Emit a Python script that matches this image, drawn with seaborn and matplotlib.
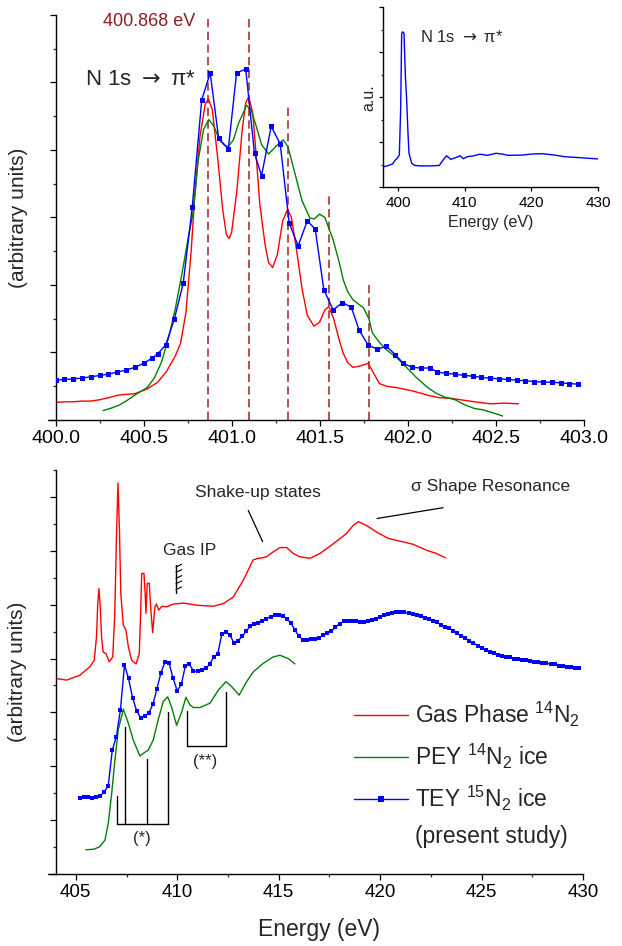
import matplotlib
matplotlib.use("Agg")
import matplotlib.pyplot as plt
from matplotlib.lines import Line2D
from matplotlib.ticker import MultipleLocator, FormatStrFormatter
import numpy as np
import pandas as pd
import seaborn as sns

# ---------------- data: top panel (N 1s -> pi*) ----------------
gas_top_e = [400.00, 400.05, 400.10, 400.15, 400.20, 400.25, 400.30, 400.36, 400.45, 400.52,
             400.58, 400.63, 400.68, 400.71, 400.74, 400.77, 400.79, 400.82, 400.85, 400.868,
             400.89, 400.92, 400.95, 400.97, 400.985, 401.00, 401.03, 401.06, 401.08, 401.097,
             401.12, 401.14, 401.16, 401.19, 401.21, 401.233, 401.26, 401.29, 401.318, 401.34,
             401.37, 401.40, 401.43, 401.468, 401.50, 401.53, 401.553, 401.58, 401.61, 401.634,
             401.66, 401.69, 401.73, 401.776, 401.81, 401.84, 401.88, 401.937, 402.03, 402.127,
             402.18, 402.25, 402.30, 402.38, 402.47, 402.55, 402.63]
gas_top_v = [0.26, 0.27, 0.27, 0.28, 0.28, 0.30, 0.33, 0.37, 0.39, 0.46,
             0.56, 0.72, 0.95, 1.14, 1.59, 2.50, 3.30, 4.20, 4.68, 4.76,
             4.60, 3.90, 3.10, 2.75, 2.69, 2.78, 3.40, 4.30, 4.70, 4.79,
             4.55, 3.90, 3.20, 2.60, 2.33, 2.26, 2.45, 2.95, 3.12, 3.00,
             2.50, 1.95, 1.55, 1.39, 1.45, 1.63, 1.68, 1.50, 1.20, 0.99,
             0.85, 0.78, 0.80, 0.84, 0.68, 0.54, 0.50, 0.48, 0.43, 0.36,
             0.33, 0.32, 0.30, 0.27, 0.24, 0.25, 0.24]

pey_top_e = [400.27, 400.32, 400.36, 400.40, 400.45, 400.52, 400.56, 400.60, 400.64, 400.68,
             400.72, 400.75, 400.78, 400.81, 400.84, 400.87, 400.90, 400.93, 400.96, 400.98,
             401.01, 401.04, 401.085, 401.11, 401.14, 401.17, 401.21, 401.25, 401.293, 401.32,
             401.35, 401.40, 401.445, 401.47, 401.50, 401.53, 401.577, 401.61, 401.634, 401.66,
             401.69, 401.72, 401.75, 401.78, 401.80, 401.84, 401.88, 401.94, 401.99, 402.05,
             402.11, 402.16, 402.21, 402.27, 402.32, 402.38, 402.43, 402.48, 402.54]
pey_top_v = [0.14, 0.18, 0.22, 0.28, 0.37, 0.48, 0.62, 0.85, 1.20, 1.65,
             2.20, 2.65, 3.06, 3.85, 4.30, 4.45, 4.35, 4.15, 4.07, 4.05,
             4.15, 4.40, 4.66, 4.60, 4.35, 4.08, 3.94, 4.05, 4.15, 4.05,
             3.75, 3.25, 2.99, 2.98, 3.05, 3.00, 2.67, 2.35, 2.08, 1.90,
             1.78, 1.72, 1.66, 1.50, 1.29, 1.15, 1.04, 0.92, 0.79, 0.63,
             0.49, 0.40, 0.34, 0.30, 0.23, 0.17, 0.15, 0.11, 0.06]

tey_top_e = [400.00, 400.05, 400.10, 400.15, 400.20, 400.25, 400.30, 400.35, 400.40, 400.45,
             400.50, 400.55, 400.58, 400.625, 400.675, 400.725, 400.776, 400.83, 400.878, 400.926,
             400.981, 401.028, 401.08, 401.13, 401.17, 401.225, 401.276, 401.327, 401.378, 401.43,
             401.475, 401.524, 401.577, 401.63, 401.68, 401.725, 401.776, 401.827, 401.88, 401.93,
             401.975, 402.026, 402.077, 402.128, 402.17, 402.22, 402.27, 402.32, 402.37, 402.42,
             402.47, 402.52, 402.57, 402.62, 402.67, 402.72, 402.77, 402.82, 402.87, 402.92, 402.97]
tey_top_v = [0.59, 0.60, 0.61, 0.62, 0.64, 0.66, 0.68, 0.71, 0.74, 0.78,
             0.84, 0.92, 0.98, 1.11, 1.50, 2.03, 3.15, 4.74, 5.14, 4.18,
             4.01, 5.14, 5.20, 3.95, 3.62, 4.35, 4.09, 2.92, 2.58, 2.95,
             2.83, 1.93, 1.63, 1.74, 1.67, 1.33, 1.11, 1.05, 1.09, 0.97,
             0.84, 0.78, 0.77, 0.77, 0.71, 0.69, 0.68, 0.66, 0.65, 0.63,
             0.62, 0.61, 0.60, 0.59, 0.58, 0.57, 0.56, 0.56, 0.55, 0.54, 0.53]

peak_e = [400.868, 401.10, 401.32, 401.556, 401.78]
peak_top = [5.95, 5.95, 4.64, 3.32, 2.02]

# ---------------- data: inset (wide TEY scan) ----------------
inset_e = [397.75, 398.5, 399.2, 399.6, 399.9, 400.2, 400.4, 400.55, 400.7, 400.9,
           401.1, 401.3, 401.5, 401.65, 402.05, 402.5, 403.5, 405.0, 406.2, 406.7,
           407.3, 407.9, 408.5, 409.3, 409.8, 410.4, 411.2, 412.3, 413.4, 414.7,
           415.6, 416.5, 418.5, 420.2, 421.8, 423.5, 425.0, 427.5, 430.0]
inset_v = [0.92, 0.97, 1.05, 1.22, 1.30, 1.45, 3.50, 6.85, 6.92, 6.85,
           5.00, 3.89, 2.40, 1.52, 1.08, 0.98, 0.96, 0.96, 0.98, 1.20,
           1.41, 1.25, 1.31, 1.41, 1.28, 1.37, 1.40, 1.48, 1.43, 1.52,
           1.49, 1.43, 1.44, 1.49, 1.50, 1.44, 1.37, 1.32, 1.27]

# ---------------- data: bottom panel (full NEXAFS) ----------------
gas_e = [404.02, 404.55, 405.2, 405.7, 405.91, 406.02, 406.08, 406.14, 406.2, 406.27,
         406.35, 406.49, 406.65, 406.82, 406.92, 407.0, 407.08, 407.15, 407.22, 407.34,
         407.47, 407.59, 407.75, 407.97, 408.13, 408.2, 408.25, 408.36, 408.42, 408.46,
         408.52, 408.62, 408.7, 408.79, 408.9, 408.98, 409.08, 409.25, 409.48, 409.8,
         410.3, 410.96, 411.77, 412.27, 412.76, 413.25, 413.74, 413.99, 414.2, 414.4,
         414.73, 415.06, 415.39, 415.72, 416.04, 416.54, 417.03, 417.69, 418.34, 418.67,
         418.92, 419.33, 419.82, 420.4, 420.97, 421.63, 422.29, 422.78, 423.22]
gas_v = [3.63, 3.60, 3.69, 3.85, 3.97, 4.40, 5.00, 5.30, 5.00, 4.40,
         4.12, 4.09, 3.94, 4.03, 4.80, 6.20, 7.26, 6.40, 5.20, 4.62,
         4.53, 4.22, 3.97, 3.90, 4.09, 4.90, 5.58, 5.58, 5.20, 4.84,
         5.39, 5.40, 4.90, 4.48, 4.96, 5.01, 4.90, 4.97, 4.96, 5.01,
         5.03, 4.99, 4.97, 5.02, 5.14, 5.45, 5.83, 5.86, 5.87, 5.89,
         5.98, 6.06, 6.06, 5.95, 5.89, 5.86, 5.95, 6.13, 6.32, 6.47,
         6.54, 6.47, 6.35, 6.23, 6.18, 6.12, 6.01, 5.95, 5.87]

pey_e = [405.5, 405.9, 406.19, 406.44, 406.6, 406.77, 406.93, 407.09, 407.34, 407.59,
         407.83, 408.16, 408.33, 408.57, 408.82, 409.06, 409.31, 409.53, 409.72, 409.97,
         410.22, 410.43, 410.63, 410.79, 411.12, 411.61, 412.02, 412.4, 412.68, 413.05,
         413.42, 413.74, 414.24, 414.73, 415.06, 415.47, 415.8]
pey_v = [0.45, 0.46, 0.51, 0.63, 0.94, 1.50, 2.12, 2.67, 3.06, 2.80,
         2.49, 2.19, 2.24, 2.30, 2.49, 2.86, 3.20, 3.29, 3.10, 2.76,
         3.01, 3.28, 3.14, 3.09, 3.09, 3.17, 3.41, 3.57, 3.48, 3.32,
         3.57, 3.75, 3.91, 4.03, 4.06, 4.00, 3.90]

tey_e = [405.2, 405.4, 405.6, 405.8, 406.0, 406.2, 406.4, 406.6, 406.8, 407.0,
         407.2, 407.4, 407.6, 407.8, 408.0, 408.2, 408.4, 408.6, 408.8, 409.0,
         409.2, 409.4, 409.6, 409.8, 410.0, 410.2, 410.4, 410.6, 410.8, 411.0,
         411.2, 411.4, 411.6, 411.8, 412.0, 412.2, 412.4, 412.6, 412.8, 413.0,
         413.2, 413.4, 413.6, 413.8, 414.0, 414.2, 414.4, 414.6, 414.8, 415.0,
         415.2, 415.4, 415.6, 415.8, 416.0, 416.2, 416.4, 416.6, 416.8, 417.0,
         417.2, 417.4, 417.6, 417.8, 418.0, 418.2, 418.4, 418.6, 418.8, 419.0,
         419.2, 419.4, 419.6, 419.8, 420.0, 420.2, 420.4, 420.6, 420.8, 421.0,
         421.2, 421.4, 421.6, 421.8, 422.0, 422.2, 422.4, 422.6, 422.8, 423.0,
         423.2, 423.4, 423.6, 423.8, 424.0, 424.2, 424.4, 424.6, 424.8, 425.0,
         425.2, 425.4, 425.6, 425.8, 426.0, 426.2, 426.4, 426.6, 426.8, 427.0,
         427.2, 427.4, 427.6, 427.8, 428.0, 428.2, 428.4, 428.6, 428.8, 429.0,
         429.2, 429.4, 429.6, 429.8]
tey_v = [1.42, 1.43, 1.43, 1.42, 1.43, 1.45, 1.52, 1.64, 2.30, 2.55,
         3.05, 3.88, 3.63, 3.27, 3.03, 2.90, 2.93, 2.99, 3.15, 3.44,
         3.74, 3.94, 3.91, 3.63, 3.40, 3.52, 3.86, 3.89, 3.77, 3.76,
         3.78, 3.82, 3.89, 4.03, 4.09, 4.46, 4.50, 4.43, 4.29, 4.33,
         4.41, 4.51, 4.60, 4.64, 4.66, 4.70, 4.74, 4.78, 4.80, 4.81,
         4.79, 4.74, 4.66, 4.53, 4.41, 4.35, 4.34, 4.36, 4.37, 4.39,
         4.43, 4.47, 4.51, 4.58, 4.65, 4.69, 4.70, 4.70, 4.69, 4.68,
         4.68, 4.69, 4.71, 4.74, 4.77, 4.80, 4.82, 4.84, 4.87, 4.87,
         4.86, 4.84, 4.82, 4.81, 4.79, 4.76, 4.73, 4.70, 4.67, 4.63,
         4.59, 4.56, 4.52, 4.47, 4.42, 4.38, 4.33, 4.29, 4.24, 4.20,
         4.16, 4.13, 4.10, 4.07, 4.05, 4.03, 4.02, 4.00, 3.99, 3.98,
         3.97, 3.95, 3.94, 3.93, 3.92, 3.91, 3.90, 3.89, 3.87, 3.86,
         3.85, 3.84, 3.83, 3.82]

legend_labels = ["Gas Phase $^{14}$N$_2$", "PEY $^{14}$N$_2$ ice",
                 "TEY $^{15}$N$_2$ ice", "(present study)"]

# ---------------- style ----------------
sns.set_theme(style="ticks")
plt.rcParams["font.family"] = ["Liberation Sans", "DejaVu Sans"]
plt.rcParams["mathtext.fontset"] = "custom"
plt.rcParams["mathtext.rm"] = "Liberation Sans"
plt.rcParams["mathtext.it"] = "Liberation Sans:italic"
plt.rcParams["mathtext.bf"] = "Liberation Sans:bold"
plt.rcParams["axes.linewidth"] = 1.0

RED, GREEN, BLUE = "#ff0000", "#008000", "#0000ff"
DASH = "#a33535"
W, H = 622, 946
PI_TEXT = "N 1s $\\rightarrow$ \u03c0*"

fig = plt.figure(figsize=(W / 100, H / 100), dpi=100)
ax1 = fig.add_axes([55.7 / W, 1 - 420 / H, 527.8 / W, 405 / H])
ax2 = fig.add_axes([55.5 / W, 1 - 874 / H, 527.5 / W, 404 / H])
ax3 = fig.add_axes([383 / W, 1 - 187.5 / H, 215 / W, 180 / H])
ax3.patch.set_alpha(0)


def style_axis(ax, labelsize, maj=4.3, mnr=2.4):
    for s in ("top", "right"):
        ax.spines[s].set_visible(False)
    ax.tick_params(which="major", direction="out", length=maj, width=0.9,
                   labelsize=labelsize, pad=3, colors="black")
    ax.tick_params(which="minor", direction="out", length=mnr, width=0.9)
    ax.tick_params(axis="y", which="both", labelleft=False)
    ax.spines["left"].set_color("black")
    ax.spines["bottom"].set_color("black")


# ---------------- top panel ----------------
df_gas_top = pd.DataFrame({"E": gas_top_e, "I": gas_top_v})
df_pey_top = pd.DataFrame({"E": pey_top_e, "I": pey_top_v})
df_tey_top = pd.DataFrame({"E": tey_top_e, "I": tey_top_v})

ax1.vlines(peak_e, 0, peak_top, colors=DASH, linewidth=1.2, linestyles=(0, (5, 2.6)), zorder=1)
sns.lineplot(data=df_gas_top, x="E", y="I", ax=ax1, color=RED, lw=1.0,
             estimator=None, sort=False, legend=False, zorder=2)
sns.lineplot(data=df_pey_top, x="E", y="I", ax=ax1, color=GREEN, lw=1.0,
             estimator=None, sort=False, legend=False, zorder=3)
sns.lineplot(data=df_tey_top, x="E", y="I", ax=ax1, color=BLUE, lw=1.0, marker="s",
             markersize=3.6, markeredgewidth=0, estimator=None, sort=False, legend=False, zorder=4)

ax1.set_xlim(400.0, 403.0)
ax1.set_ylim(0, 6.0)
ax1.xaxis.set_major_locator(MultipleLocator(0.5))
ax1.xaxis.set_minor_locator(MultipleLocator(0.25))
ax1.xaxis.set_major_formatter(FormatStrFormatter("%.1f"))
ax1.yaxis.set_major_locator(MultipleLocator(1))
ax1.yaxis.set_minor_locator(MultipleLocator(0.5))
style_axis(ax1, 14)
ax1.set_xlabel("")
ax1.set_ylabel("(arbitrary units)", fontsize=15, va="center")
ax1.yaxis.set_label_coords(-0.0714, 0.5)
ax1.plot([-0.015, 0], [0, 0], transform=ax1.transAxes, color="black", lw=1.0, clip_on=False)

ax1.text(400.53, 5.9, "400.868 eV", color="#8b1e1e", fontsize=13, ha="center", va="center")
ax1.text(400.166, 5.04, PI_TEXT, fontsize=16, ha="left", va="center",
         math_fontfamily="dejavusans")

# ---------------- inset ----------------
df_inset = pd.DataFrame({"E": inset_e, "I": inset_v})
sns.lineplot(data=df_inset, x="E", y="I", ax=ax3, color=BLUE, lw=1.0,
             estimator=None, sort=False, legend=False)
ax3.set_xlim(397.75, 430.0)
ax3.set_ylim(0, 8)
ax3.set_xticks([400, 410, 420, 430])
ax3.xaxis.set_minor_locator(MultipleLocator(5))
ax3.yaxis.set_major_locator(MultipleLocator(2))
ax3.yaxis.set_minor_locator(MultipleLocator(1))
style_axis(ax3, 11, maj=3.0, mnr=1.8)
ax3.tick_params(axis="x", which="minor", length=0)
ax3.set_xlabel("Energy (eV)", fontsize=11.5)
ax3.xaxis.set_label_coords(0.5, -0.155)
ax3.set_ylabel("a.u.", fontsize=11.5, va="center")
ax3.yaxis.set_label_coords(-0.065, 0.5)
ax3.text(403.3, 6.7, PI_TEXT, fontsize=12, ha="left", va="center",
         math_fontfamily="dejavusans")

# ---------------- bottom panel ----------------
df_gas = pd.DataFrame({"E": gas_e, "I": gas_v})
df_pey = pd.DataFrame({"E": pey_e, "I": pey_v})
df_tey = pd.DataFrame({"E": tey_e, "I": tey_v})

sns.lineplot(data=df_gas, x="E", y="I", ax=ax2, color=RED, lw=1.0,
             estimator=None, sort=False, legend=False)
sns.lineplot(data=df_pey, x="E", y="I", ax=ax2, color=GREEN, lw=1.0,
             estimator=None, sort=False, legend=False)
sns.lineplot(data=df_tey, x="E", y="I", ax=ax2, color=BLUE, lw=1.0, marker="s",
             markersize=2.4, markeredgewidth=0, estimator=None, sort=False, legend=False)

ax2.set_xlim(404.0, 430.0)
ax2.set_ylim(0, 7.5)
ax2.xaxis.set_major_locator(MultipleLocator(5))
ax2.xaxis.set_minor_locator(MultipleLocator(2.5))
ax2.yaxis.set_major_locator(MultipleLocator(1))
ax2.yaxis.set_minor_locator(MultipleLocator(0.5))
style_axis(ax2, 13.5)
ax2.set_xlabel("Energy (eV)", fontsize=16.5, va="top")
ax2.xaxis.set_label_coords(0.5, -0.11)
ax2.set_ylabel("(arbitrary units)", fontsize=15, va="center")
ax2.yaxis.set_label_coords(-0.0714, 0.5)
ax2.plot([-0.015, 0], [0, 0], transform=ax2.transAxes, color="black", lw=1.0, clip_on=False)

# annotations
ax2.text(410.63, 6.01, "Gas IP", fontsize=12.5, ha="center", va="center")
ip_e = 409.94
ax2.plot([ip_e, ip_e], [5.21, 5.73], color="black", lw=1.0)
for hv in [5.70, 5.60, 5.49, 5.39, 5.28]:
    ax2.plot([ip_e, ip_e + 0.28], [hv, hv + 0.05], color="black", lw=0.8)

ax2.text(414.0, 7.09, "Shake-up states", fontsize=12.5, ha="center", va="center")
ax2.plot([413.5, 414.21], [6.75, 6.17], color="black", lw=0.9)
ax2.text(425.45, 7.2, "\u03c3 Shape Resonance", fontsize=12.5, ha="center", va="center")
ax2.plot([419.85, 423.1], [6.6, 6.8], color="black", lw=0.9)

# (*) bracket
ax2.plot([407.01, 409.53], [0.93, 0.93], color="black", lw=1.0)
for be, bt in zip([407.01, 407.42, 408.51, 409.53], [1.45, 2.73, 2.13, 3.01]):
    ax2.plot([be, be], [0.93, bt], color="black", lw=1.0)
ax2.text(408.25, 0.66, "(*)", fontsize=12, ha="center", va="center")
# (**) bracket
ax2.plot([410.46, 412.38], [2.38, 2.38], color="black", lw=1.0)
ax2.plot([410.46, 410.46], [2.38, 3.02], color="black", lw=1.0)
ax2.plot([412.38, 412.38], [2.38, 3.37], color="black", lw=1.0)
ax2.text(411.37, 2.08, "(**)", fontsize=12, ha="center", va="center")

handles = [Line2D([], [], color=RED, lw=1.0),
           Line2D([], [], color=GREEN, lw=1.0),
           Line2D([], [], color=BLUE, lw=1.0, marker="s", markersize=5, markeredgewidth=0),
           Line2D([], [], color="none", lw=0)]
ax2.legend(handles, legend_labels, loc="upper left", bbox_to_anchor=(0.566, 0.43),
           frameon=False, fontsize=16.5, handlelength=2.37, handletextpad=0.3,
           labelspacing=0.55, borderpad=0, borderaxespad=0, numpoints=1)

fig.savefig("out.png", dpi=100)
